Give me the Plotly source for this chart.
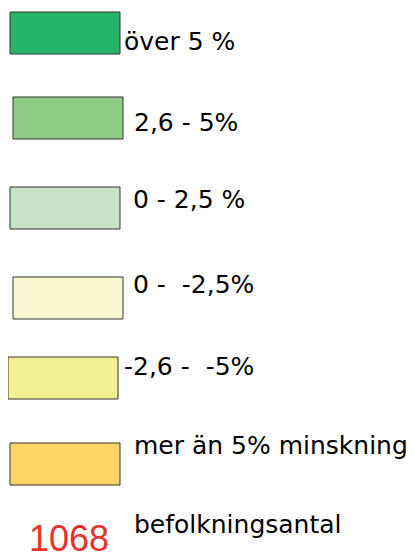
import plotly.graph_objects as go

# Legend data
labels = ["över 5 %", "2,6 - 5%", "0 - 2,5 %", "0 -  -2,5%", "-2,6 -  -5%", "mer än 5% minskning"]
colors = ["#27B36A", "#90CC85", "#C6E2C8", "#F9F7CF", "#F2F092", "#FED566"]
sample_value = "1068"
sample_label = "befolkningsantal"

# Layout (pixel positions on the 414x559 page)
box_left = [10, 13, 10, 13, 8, 10]
box_top = [12, 97, 187, 277, 357, 443]
box_w = 110
box_h = 42
text_x = [122, 132, 131, 131, 122, 132]
text_y = [41, 122, 199, 284, 366, 445]

# page has an 8px body margin: map axis units to page pixels
OFF = 8

fig = go.Figure()
fig.add_trace(go.Scatter(x=[OFF, 414 + OFF], y=[OFF, 559 + OFF], mode="markers",
                         marker=dict(opacity=0), hoverinfo="skip", showlegend=False))

for i, (lab, col) in enumerate(zip(labels, colors)):
    fig.add_shape(type="rect", xref="x", yref="y",
                  x0=box_left[i], x1=box_left[i] + box_w,
                  y0=box_top[i], y1=box_top[i] + box_h,
                  fillcolor=col, line=dict(color="#333333", width=1))
    fig.add_annotation(x=text_x[i], y=text_y[i], xref="x", yref="y", text=lab,
                       showarrow=False, xanchor="left", yanchor="middle",
                       font=dict(family="DejaVu Sans", size=25, color="#000000"))

fig.add_annotation(x=132, y=524, xref="x", yref="y", text=sample_label,
                   showarrow=False, xanchor="left", yanchor="middle",
                   font=dict(family="DejaVu Sans", size=25, color="#000000"))
fig.add_annotation(x=27, y=538, xref="x", yref="y", text=sample_value,
                   showarrow=False, xanchor="left", yanchor="middle",
                   font=dict(family="Liberation Sans", size=36, color="#E8322D"))

fig.update_xaxes(range=[OFF, 414 + OFF], visible=False, fixedrange=True)
fig.update_yaxes(range=[559 + OFF, OFF], visible=False, fixedrange=True)
fig.update_layout(width=414, height=559, margin=dict(l=0, r=0, t=0, b=0),
                  paper_bgcolor="white", plot_bgcolor="white", showlegend=False)

fig.write_html("out.html", config={"displayModeBar": False})
